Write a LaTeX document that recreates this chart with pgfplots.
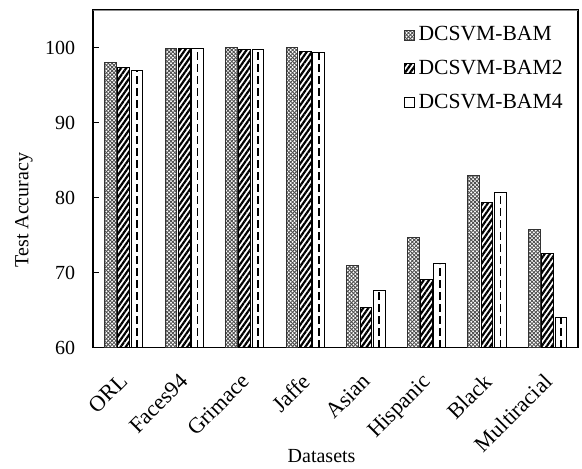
\documentclass[border=0pt]{standalone}
\usepackage{fontspec}
\setmainfont{Liberation Serif}
\usepackage{pgfplots}
\usepackage{pgfplotstable}
\pgfplotsset{compat=1.18}
\usetikzlibrary{patterns,patterns.meta}

\pgfdeclarepatternformonly{xhatch}{\pgfqpoint{-0.5pt}{-0.5pt}}{\pgfqpoint{2.4pt}{2.4pt}}{\pgfqpoint{1.9pt}{1.9pt}}{%
  \pgfsetlinewidth{0.4pt}%
  \pgfpathmoveto{\pgfqpoint{0pt}{0pt}}\pgfpathlineto{\pgfqpoint{1.9pt}{1.9pt}}%
  \pgfpathmoveto{\pgfqpoint{0pt}{1.9pt}}\pgfpathlineto{\pgfqpoint{1.9pt}{0pt}}%
  \pgfusepath{stroke}}

\pgfplotsset{
  sqlegend/.style={legend image code/.code={\draw[##1,line width=0.5pt] (0pt,-2.5pt) rectangle (5pt,2.5pt);}},
}

\pgfplotstableread{
x a b c
0 98.0 97.3 97.0
1 99.9 99.9 99.9
2 100.0 99.8 99.7
3 100.0 99.5 99.4
4 71.0 65.3 67.6
5 74.7 69.1 71.2
6 82.9 79.4 80.7
7 75.7 72.5 64.0
}\datatable

\begin{document}
\begin{tikzpicture}
\begin{axis}[
  width=242.35pt, height=168.75pt, scale only axis,
  xmin=-0.5, xmax=7.5, ymin=60, ymax=105,
  ytick={60,70,80,90,100},
  xtick={0,...,7},
  xticklabels={ORL,Faces94,Grimace,Jaffe,Asian,Hispanic,Black,Multiracial},
  x tick label style={xshift=-2.5pt, yshift=-7.5pt, rotate=45, anchor=north east, font=\fontsize{11.1}{13}\selectfont},
  y tick label style={xshift=-5.6pt, font=\fontsize{10}{12}\selectfont},
  /pgf/number format/assume math mode=true,
  tick align=inside, ytick pos=left, xtick pos=bottom,
  major tick length=3pt,
  x tick style={draw=none},
  y tick style={black, line width=0.6pt},
  axis line style={black, line width=0.9pt},
  xlabel={Datasets}, ylabel={Test Accuracy},
  xlabel style={at={(axis description cs:0.471,-0.323)}, anchor=center},
  ylabel style={at={(axis description cs:-0.143,0.407)}, anchor=center},
  legend style={draw=none, fill=none, at={(1,1)}, anchor=north east, xshift=-2.5pt, yshift=-4pt,
    row sep=4.2pt, font=\fontsize{10.8}{12.5}\selectfont},
  legend cell align=left,
]
\addplot[ybar, bar width=5.85pt, bar shift=-6.65pt, draw=black!80, line width=0.5pt,
  pattern=xhatch, pattern color=black!70, sqlegend] table[x=x, y=a] {\datatable};
\addlegendentry{DCSVM-BAM}
\addplot[ybar, bar width=5.85pt, bar shift=0pt, draw=black, line width=0.5pt,
  pattern={Lines[angle=55,distance=2.1pt,line width=1.1pt]}, pattern color=black, sqlegend] table[x=x, y=b] {\datatable};
\addlegendentry{DCSVM-BAM2}
\addplot[ybar, bar width=5.85pt, bar shift=6.65pt, draw=black, line width=0.5pt,
  fill=white, sqlegend] table[x=x, y=c] {\datatable};
\addlegendentry{DCSVM-BAM4}
\addplot[ycomb, mark=none, black, line width=0.9pt, dash pattern=on 4pt off 2pt, forget plot]
  table[x expr=\coordindex+0.2195, y=c] {\datatable};
\draw[white, line width=1.3pt] (rel axis cs:0.002,1) -- (rel axis cs:0.998,1);
\draw[black!45, line width=0.5pt] (rel axis cs:0,1) -- (rel axis cs:1,1);
\end{axis}
\pgfresetboundingbox
\path ([shift={(-46.65pt,-60.25pt)}]current axis.south west) rectangle ([shift={(2pt,5pt)}]current axis.north east);
\end{tikzpicture}
\end{document}
